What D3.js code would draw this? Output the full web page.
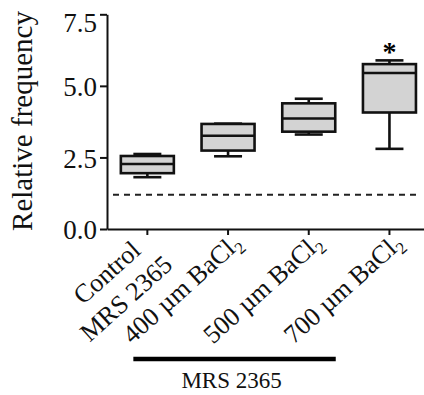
<!DOCTYPE html>
<html><head><meta charset="utf-8">
<script src="https://cdn.jsdelivr.net/npm/d3@7"></script>
<style>body{margin:0;background:#fff}svg{display:block}svg text{font-family:'Liberation Serif','Times New Roman',Times,serif}</style>
</head><body>
<svg id="c" width="424" height="395"></svg>
<script>
// ---- data ----
const categories = ["Control", "400", "500", "700"];
const labelMain = ["Control", "400 µm BaCl", "500 µm BaCl", "700 µm BaCl"];
const labelSecond = ["MRS 2365", "", "", ""];
const labelSub = ["", "2", "2", "2"];
const whiskerMin = [1.81, 2.54, 3.30, 2.80];
const q1 = [1.95, 2.74, 3.40, 4.07];
const median = [2.27, 3.26, 3.86, 5.45];
const q3 = [2.55, 3.67, 4.39, 5.76];
const whiskerMax = [2.62, 3.68, 4.55, 5.89];
const significant = [false, false, false, true];
const yTicks = [0, 2.5, 5, 7.5];
const referenceLevel = 1.2;
const groupLabel = "MRS 2365";
const groupMembers = ["Control", "500"];
const yTitle = "Relative frequency";

// ---- layout ----
const svg = d3.select("#c");
const x = d3.scaleBand().domain(categories).range([107, 429.8]).padding(0);
const y = d3.scaleLinear().domain([0, 7.5]).range([229, 14.3]);
const cx = c => x(c) + x.bandwidth() / 2;
const boxW = 53, capW = 28, sw = 2.6;

// reference dashed line
svg.append("line")
  .attr("x1", x.range()[0] + 6).attr("x2", 418)
  .attr("y1", y(referenceLevel)).attr("y2", y(referenceLevel))
  .attr("stroke", "#222").attr("stroke-width", 2).attr("stroke-dasharray", "6,5");

// boxes
const data = categories.map((c, i) => ({c, min: whiskerMin[i], q1: q1[i], med: median[i], q3: q3[i], max: whiskerMax[i], sig: significant[i]}));
const g = svg.selectAll("g.box").data(data).join("g").attr("class", "box");
g.append("line").attr("x1", d => cx(d.c)).attr("x2", d => cx(d.c))
  .attr("y1", d => y(d.max)).attr("y2", d => y(d.q3)).attr("stroke", "#111").attr("stroke-width", sw);
g.append("line").attr("x1", d => cx(d.c)).attr("x2", d => cx(d.c))
  .attr("y1", d => y(d.q1)).attr("y2", d => y(d.min)).attr("stroke", "#111").attr("stroke-width", sw);
g.append("line").attr("x1", d => cx(d.c) - capW / 2).attr("x2", d => cx(d.c) + capW / 2)
  .attr("y1", d => y(d.max)).attr("y2", d => y(d.max)).attr("stroke", "#111").attr("stroke-width", sw);
g.append("line").attr("x1", d => cx(d.c) - capW / 2).attr("x2", d => cx(d.c) + capW / 2)
  .attr("y1", d => y(d.min)).attr("y2", d => y(d.min)).attr("stroke", "#111").attr("stroke-width", sw);
g.append("rect").attr("x", d => cx(d.c) - boxW / 2).attr("width", boxW)
  .attr("y", d => y(d.q3)).attr("height", d => y(d.q1) - y(d.q3))
  .attr("fill", "#d3d3d3").attr("stroke", "#111").attr("stroke-width", sw);
g.append("line").attr("x1", d => cx(d.c) - boxW / 2).attr("x2", d => cx(d.c) + boxW / 2)
  .attr("y1", d => y(d.med)).attr("y2", d => y(d.med)).attr("stroke", "#111").attr("stroke-width", sw);
g.filter(d => d.sig).append("text").attr("x", d => cx(d.c)).attr("y", d => y(d.max) + 1)
  .attr("text-anchor", "middle").attr("font-weight", "bold")
  .attr("font-size", 28).text("*");

// y axis
const ya = svg.append("g").attr("transform", `translate(${x.range()[0]},0)`)
  .call(d3.axisLeft(y).tickValues(yTicks).tickFormat(d3.format(".1f")).tickSize(7).tickSizeOuter(0).tickPadding(3));
ya.attr("font-family", null).attr("font-size", null);
ya.select(".domain").attr("stroke", "#111").attr("stroke-width", 2);
ya.selectAll(".tick line").attr("stroke", "#111").attr("stroke-width", 2);
ya.selectAll(".tick text").attr("font-size", 27).attr("fill", "#111")
  .attr("dy", d => d === 7.5 ? "0.62em" : "0.36em");

// x axis
const xa = svg.append("g").attr("transform", `translate(0,${y(0)})`)
  .call(d3.axisBottom(x).tickSize(6).tickSizeOuter(0).tickFormat(""));
xa.select(".domain").attr("stroke", "#111").attr("stroke-width", 2);
xa.selectAll(".tick line").attr("stroke", "#111").attr("stroke-width", 2);

// x labels
const lab = svg.selectAll("g.xl").data(categories).join("g").attr("class", "xl")
  .attr("transform", c => `translate(${cx(c) + 15},${y(0) + 16}) rotate(-42)`);
lab.each(function(c, i) {
  const s = d3.select(this);
  if (labelSecond[i]) {
    s.append("text").attr("x", -20).attr("y", -8).attr("text-anchor", "end")
      .attr("font-size", 26).attr("fill", "#111").text(labelMain[i]);
    s.append("text").attr("x", -6).attr("y", 24).attr("text-anchor", "end")
      .attr("font-size", 26).attr("fill", "#111").text(labelSecond[i]);
  } else {
    const t = s.append("text").attr("text-anchor", "end")
      .attr("font-size", 26).attr("fill", "#111");
    t.append("tspan").text(labelMain[i]);
    t.append("tspan").attr("font-size", 17).attr("dy", "0.35em").text(labelSub[i]);
  }
});

// group bar
svg.append("line").attr("x1", cx(groupMembers[0]) - 14).attr("x2", cx(groupMembers[1]) + 27)
  .attr("y1", 359).attr("y2", 359).attr("stroke", "#000").attr("stroke-width", 4.5);
svg.append("text").attr("x", (cx(groupMembers[0]) - 14 + cx(groupMembers[1]) + 27) / 2 - 3).attr("y", 388)
  .attr("text-anchor", "middle").attr("font-size", 23).attr("fill", "#111").text(groupLabel);

// y title
svg.append("text").attr("transform", `translate(32,121) rotate(-90)`)
  .attr("text-anchor", "middle").attr("font-size", 29).attr("fill", "#111").text(yTitle);
</script>
</body></html>
